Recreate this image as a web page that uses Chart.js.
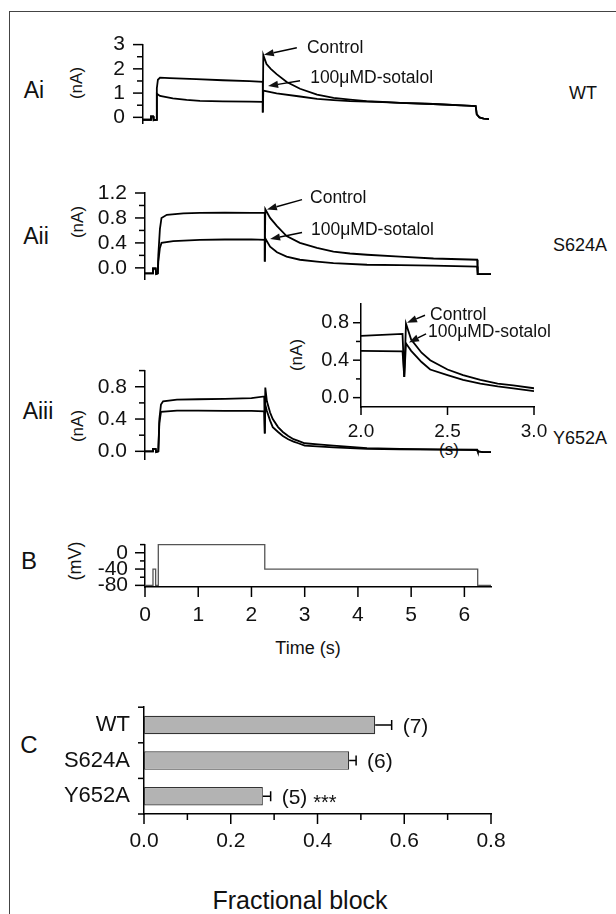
<!DOCTYPE html>
<html><head><meta charset="utf-8">
<script src="https://cdn.jsdelivr.net/npm/chart.js@4.4.1/dist/chart.umd.min.js"></script>
<style>
html,body{margin:0;padding:0;background:#fff;}
body{width:616px;height:914px;position:relative;overflow:hidden;font-family:"Liberation Sans",Arial,sans-serif;color:#111;}
#frame{position:absolute;left:9px;top:11px;width:640px;height:940px;border-left:1.5px solid #444;border-top:1.5px solid #444;}
canvas{position:absolute;}
.lbl{position:absolute;transform:translate(-50%,-50%);white-space:nowrap;line-height:1;}
.rot{transform:translate(-50%,-50%) rotate(-90deg);}
</style></head><body>
<div id="frame"></div>
<div class="lbl" style="left:34px;top:90px;font-size:23px">Ai</div>
<div class="lbl rot" style="left:76px;top:83px;font-size:17px">(nA)</div>
<div class="lbl" style="left:583px;top:93px;font-size:18px">WT</div>
<div class="lbl" style="left:36px;top:236px;font-size:23px">Aii</div>
<div class="lbl rot" style="left:77px;top:222px;font-size:17px">(nA)</div>
<div class="lbl" style="left:580px;top:245px;font-size:18px">S624A</div>
<div class="lbl" style="left:38px;top:411px;font-size:23px">Aiii</div>
<div class="lbl rot" style="left:77px;top:426px;font-size:17px">(nA)</div>
<div class="lbl rot" style="left:296px;top:355px;font-size:17px">(nA)</div>
<div class="lbl" style="left:449px;top:449px;font-size:17px">(s)</div>
<div class="lbl" style="left:580px;top:438px;font-size:18px">Y652A</div>
<div class="lbl" style="left:29px;top:561px;font-size:24px">B</div>
<div class="lbl rot" style="left:75px;top:561px;font-size:18px">(mV)</div>
<div class="lbl" style="left:308px;top:648px;font-size:18px">Time (s)</div>
<div class="lbl" style="left:29px;top:745px;font-size:24px">C</div>
<div class="lbl" style="left:300px;top:900px;font-size:25px">Fractional block</div>
<script>
// ================= DATA =================
// Panel Ai (WT): time (s) / current (nA)
const aiCtrlT = [0, 0.14, 0.15, 0.19, 0.2, 0.25, 0.26, 0.28, 0.32, 0.5, 1.0, 1.5, 2.0, 2.25, 2.25, 2.26, 2.32, 2.4, 2.51, 2.7, 2.95, 3.27, 3.58, 3.89, 4.2, 4.5, 4.83, 5.45, 6.08, 6.25, 6.27, 6.32, 6.4, 6.5];
const aiCtrlI = [-0.1, -0.1, 0.04, 0.04, -0.12, -0.1, 1.2, 1.55, 1.64, 1.62, 1.58, 1.53, 1.49, 1.46, 0.2, 2.57, 2.2, 2.0, 1.78, 1.46, 1.18, 0.94, 0.8, 0.73, 0.67, 0.635, 0.6, 0.55, 0.48, 0.46, 0.12, 0.0, -0.05, -0.07];
const aiSotT = [0, 0.14, 0.15, 0.19, 0.2, 0.25, 0.26, 0.32, 0.56, 0.82, 1.07, 1.5, 2.0, 2.25, 2.25, 2.26, 2.51, 2.95, 3.27, 3.58, 3.89, 4.2, 4.5, 4.83, 5.45, 6.08, 6.25, 6.27, 6.32, 6.4, 6.5];
const aiSotI = [-0.1, -0.1, 0.04, 0.04, -0.12, -0.1, 0.97, 0.88, 0.78, 0.72, 0.68, 0.66, 0.645, 0.635, 0.2, 1.1, 0.99, 0.86, 0.76, 0.71, 0.67, 0.65, 0.63, 0.6, 0.55, 0.48, 0.46, 0.12, 0.0, -0.05, -0.07];

// Panel Aii (S624A)
const aiiCtrlT = [0, 0.14, 0.15, 0.2, 0.21, 0.24, 0.25, 0.28, 0.31, 0.41, 0.72, 1.03, 1.5, 2.0, 2.25, 2.25, 2.26, 2.35, 2.48, 2.66, 2.91, 3.23, 3.54, 3.85, 4.17, 4.79, 5.42, 6.24, 6.25, 6.3, 6.5];
const aiiCtrlI = [-0.09, -0.09, -0.01, -0.01, -0.1, -0.09, 0.2, 0.62, 0.8, 0.85, 0.875, 0.88, 0.885, 0.88, 0.88, 0.1, 0.94, 0.8, 0.67, 0.51, 0.40, 0.32, 0.26, 0.23, 0.21, 0.18, 0.15, 0.13, -0.1, -0.1, -0.1];
const aiiSotT = [0, 0.14, 0.15, 0.2, 0.21, 0.24, 0.25, 0.28, 0.31, 0.53, 1.03, 1.5, 2.0, 2.25, 2.25, 2.26, 2.35, 2.48, 2.66, 2.91, 3.23, 3.54, 4.17, 4.79, 5.42, 6.24, 6.25, 6.3, 6.5];
const aiiSotI = [-0.09, -0.09, -0.01, -0.01, -0.1, -0.09, 0.1, 0.32, 0.4, 0.43, 0.45, 0.455, 0.455, 0.45, 0.1, 0.47, 0.34, 0.25, 0.18, 0.13, 0.10, 0.075, 0.05, 0.045, 0.035, 0.02, -0.1, -0.1, -0.1];

// Panel Aiii (Y652A) — also shown magnified in the inset
const aiiiCtrlT = [0, 0.14, 0.15, 0.2, 0.21, 0.25, 0.27, 0.3, 0.34, 0.6, 1.0, 1.5, 2.0, 2.24, 2.25, 2.26, 2.29, 2.35, 2.4, 2.5, 2.59, 2.69, 2.79, 2.88, 3.0, 3.25, 3.54, 4.17, 4.79, 5.5, 6.24, 6.25, 6.35, 6.5];
const aiiiCtrlI = [0, 0, 0.03, 0.03, -0.01, 0, 0.4, 0.58, 0.62, 0.64, 0.645, 0.65, 0.66, 0.68, 0.22, 0.79, 0.62, 0.48, 0.40, 0.30, 0.24, 0.19, 0.15, 0.13, 0.10, 0.085, 0.07, 0.04, 0.03, 0.025, 0.02, 0.0, -0.01, -0.01];
const aiiiSotT = [0, 0.14, 0.15, 0.2, 0.21, 0.25, 0.27, 0.3, 0.6, 1.0, 1.5, 2.0, 2.24, 2.25, 2.26, 2.29, 2.35, 2.4, 2.5, 2.59, 2.69, 2.79, 2.88, 3.0, 3.54, 4.17, 4.79, 5.5, 6.24, 6.25, 6.35, 6.5];
const aiiiSotI = [0, 0, 0.03, 0.03, -0.01, 0, 0.35, 0.49, 0.505, 0.505, 0.5, 0.5, 0.495, 0.22, 0.58, 0.5, 0.38, 0.30, 0.24, 0.19, 0.15, 0.12, 0.10, 0.07, 0.05, 0.03, 0.025, 0.02, 0.015, 0.0, -0.01, -0.01];

// Panel B: voltage protocol, time (s) / membrane potential (mV)
const protT = [0, 0.15, 0.15, 0.2, 0.2, 0.25, 0.25, 2.25, 2.25, 6.25, 6.25, 6.5];
const protV = [-80, -80, -40, -40, -80, -80, 20, 20, -40, -40, -80, -80];

// Panel C: fractional block by 100 µM D-sotalol
const channels = ['WT', 'S624A', 'Y652A'];
const fracBlock = [0.533, 0.473, 0.274];
const fracSem = [0.038, 0.016, 0.018];
const nCells = ['(7)', '(6)', '(5)'];
const signif = ['', '', '***'];

// Tick values
const aiTicks = [0, 1, 2, 3], aiMinor = [0.5, 1.5, 2.5];
const aiiTicks = [0, 0.4, 0.8, 1.2], aiiMinor = [0.2, 0.6, 1.0];
const aiiiTicks = [0, 0.4, 0.8], aiiiMinor = [0.2, 0.6, 1.0];
const insetYTicks = [0, 0.4, 0.8], insetYMinor = [0.2, 0.6];
const insetXTicks = [2.0, 2.5, 3.0];
const bYTicks = [0, -40, -80], bYMinor = [20, -20, -60];
const timeTicks = [0, 1, 2, 3, 4, 5, 6];
const cXTicks = [0, 0.2, 0.4, 0.6, 0.8], cXMinor = [0.1, 0.3, 0.5, 0.7];

// ================= HELPERS =================
const FONT = '"Liberation Sans", Arial, sans-serif';
Chart.defaults.font.family = FONT;
Chart.defaults.color = '#111';
Chart.defaults.animation = false;

const pts = (t, v) => t.map((x, i) => ({x, y: v[i]}));
const trace = (t, v, w) => ({data: pts(t, v), borderColor: '#000', borderWidth: w || 1.8, pointRadius: 0, showLine: true, tension: 0, fill: false});

function linAxis(o) {
  return {
    type: 'linear', display: o.display !== false, min: o.min, max: o.max, position: o.position,
    grid: {display: false, drawTicks: false},
    border: {display: true, color: '#000', width: 1.5},
    ticks: {padding: o.pad || 0, font: {size: o.size || 20}, color: '#111', maxRotation: 0, autoSkip: false,
      callback: (v) => o.fmt ? o.fmt(v) : String(v)},
    afterBuildTicks: (s) => { if (o.major) s.ticks = o.major.map(v => ({value: v})); },
    afterFit: o.fit
  };
}

function tickPlugin(specs) {
  return {
    id: 'tickmarks',
    afterDraw(chart) {
      const ctx = chart.ctx, a = chart.chartArea;
      ctx.save(); ctx.strokeStyle = '#000'; ctx.lineWidth = 1.5;
      specs.forEach(sp => {
        const s = chart.scales[sp.axis];
        const draw = (vals, len) => (vals || []).forEach(v => {
          const p = s.getPixelForValue(v);
          ctx.beginPath();
          if (sp.axis === 'y') { ctx.moveTo(a.left, p); ctx.lineTo(a.left - len, p); }
          else { ctx.moveTo(p, a.bottom); ctx.lineTo(p, a.bottom + len); }
          ctx.stroke();
        });
        draw(sp.major, sp.majLen); draw(sp.minor, sp.minLen);
      });
      ctx.restore();
    }
  };
}

function notePlugin(notes) {
  return {
    id: 'notes',
    afterDraw(chart) {
      const ctx = chart.ctx, xs = chart.scales.x, ys = chart.scales.y;
      ctx.save();
      ctx.font = '17.5px ' + FONT; ctx.fillStyle = '#111'; ctx.strokeStyle = '#000'; ctx.lineWidth = 1.4;
      ctx.textAlign = 'left'; ctx.textBaseline = 'middle';
      notes.forEach(n => {
        ctx.fillText(n.text, xs.getPixelForValue(n.at[0]), ys.getPixelForValue(n.at[1]));
        const x0 = xs.getPixelForValue(n.from[0]), y0 = ys.getPixelForValue(n.from[1]);
        const x1 = xs.getPixelForValue(n.to[0]), y1 = ys.getPixelForValue(n.to[1]);
        const ang = Math.atan2(y1 - y0, x1 - x0), L = 10, W = 3.6;
        const bx = x1 - L * Math.cos(ang), by = y1 - L * Math.sin(ang);
        ctx.beginPath(); ctx.moveTo(x0, y0); ctx.lineTo(bx, by); ctx.stroke();
        ctx.beginPath(); ctx.moveTo(x1, y1);
        ctx.lineTo(bx + W * Math.sin(ang), by - W * Math.cos(ang));
        ctx.lineTo(bx - W * Math.sin(ang), by + W * Math.cos(ang));
        ctx.closePath(); ctx.fill();
      });
      ctx.restore();
    }
  };
}

function makeChart(box, area, build) {
  const c = document.createElement('canvas');
  c.width = box.w; c.height = box.h;
  Object.assign(c.style, {left: box.l + 'px', top: box.t + 'px', width: box.w + 'px', height: box.h + 'px'});
  document.body.appendChild(c);
  const fitY = (s) => { s.width = area.l - box.l; };
  const fitX = (s) => { s.height = box.t + box.h - area.b; };
  const cfg = build(fitX, fitY);
  const xShown = cfg.options.scales.x.display !== false;
  cfg.options.responsive = false;
  cfg.options.maintainAspectRatio = false;
  cfg.options.events = [];
  cfg.options.layout = {padding: {left: 0, top: area.t - box.t, right: box.l + box.w - area.r, bottom: xShown ? 0 : box.t + box.h - area.b}};
  cfg.options.plugins = Object.assign({legend: {display: false}, tooltip: {enabled: false}}, cfg.options.plugins || {});
  return new Chart(c, cfg);
}

const f1 = (v) => v.toFixed(1);

// ================= PANEL Ai =================
makeChart({l: 0, t: 14, w: 616, h: 140}, {l: 143, t: 33, r: 489, b: 136}, (fitX, fitY) => ({
  type: 'scatter',
  data: {datasets: [trace(aiCtrlT, aiCtrlI), trace(aiSotT, aiSotI)]},
  options: {scales: {
    x: linAxis({min: 0, max: 6.5, display: false}),
    y: linAxis({min: -0.25, max: 3, major: aiTicks, pad: 18, size: 21, fit: fitY})
  }},
  plugins: [tickPlugin([{axis: 'y', major: aiTicks, minor: aiMinor, majLen: 10, minLen: 6}]),
    notePlugin([
      {text: 'Control', at: [3.08, 2.84], from: [2.89, 2.87], to: [2.27, 2.58]},
      {text: '100\u03bcMD-sotalol', at: [3.14, 1.61], from: [2.95, 1.51], to: [2.35, 1.29]}
    ])]
}));

// ================= PANEL Aii =================
makeChart({l: 0, t: 160, w: 616, h: 150}, {l: 145, t: 193, r: 491, b: 298}, (fitX, fitY) => ({
  type: 'scatter',
  data: {datasets: [trace(aiiCtrlT, aiiCtrlI), trace(aiiSotT, aiiSotI)]},
  options: {scales: {
    x: linAxis({min: 0, max: 6.5, display: false}),
    y: linAxis({min: -0.185, max: 1.2, major: aiiTicks, fmt: f1, pad: 18, size: 21, fit: fitY})
  }},
  plugins: [tickPlugin([{axis: 'y', major: aiiTicks, minor: aiiMinor, majLen: 10, minLen: 6}]),
    notePlugin([
      {text: 'Control', at: [3.1, 1.12], from: [2.95, 1.095], to: [2.29, 0.937]},
      {text: '100\u03bcMD-sotalol', at: [3.12, 0.607], from: [2.95, 0.567], to: [2.35, 0.462]}
    ])]
}));

// ================= PANEL Aiii =================
makeChart({l: 0, t: 340, w: 616, h: 150}, {l: 145, t: 369, r: 491, b: 472}, (fitX, fitY) => ({
  type: 'scatter',
  data: {datasets: [trace(aiiiCtrlT, aiiiCtrlI), trace(aiiiSotT, aiiiSotI)]},
  options: {scales: {
    x: linAxis({min: 0, max: 6.5, display: false}),
    y: linAxis({min: -0.1, max: 1.0, major: aiiiTicks, fmt: f1, pad: 18, size: 21, fit: fitY})
  }},
  plugins: [tickPlugin([{axis: 'y', major: aiiiTicks, minor: aiiiMinor, majLen: 10, minLen: 6}])]
}));

// ================= INSET (Y652A, 2–3 s) =================
makeChart({l: 250, t: 280, w: 366, h: 175}, {l: 361, t: 297, r: 534, b: 407}, (fitX, fitY) => ({
  type: 'scatter',
  data: {datasets: [trace(aiiiCtrlT, aiiiCtrlI), trace(aiiiSotT, aiiiSotI)]},
  options: {scales: {
    x: linAxis({min: 2, max: 3, major: insetXTicks, fmt: f1, pad: 13, size: 19, fit: fitX, position: 'bottom'}),
    y: linAxis({min: -0.1, max: 1.0, major: insetYTicks, fmt: f1, pad: 12, size: 20, fit: fitY})
  }},
  plugins: [tickPlugin([{axis: 'y', major: insetYTicks, minor: insetYMinor, majLen: 8, minLen: 5},
                        {axis: 'x', major: insetXTicks, majLen: 8}]),
    notePlugin([
      {text: 'Control', at: [2.399, 0.88], from: [2.37, 0.88], to: [2.266, 0.80]},
      {text: '100\u03bcMD-sotalol', at: [2.387, 0.70], from: [2.376, 0.68], to: [2.277, 0.59]}
    ])]
}));

// ================= PANEL B =================
makeChart({l: 0, t: 515, w: 616, h: 110}, {l: 145, t: 533, r: 491, b: 587}, (fitX, fitY) => ({
  type: 'scatter',
  data: {datasets: [Object.assign(trace(protT, protV, 1.3), {borderColor: '#555', clip: false})]},
  options: {scales: {
    x: linAxis({min: 0, max: 6.5, major: timeTicks, pad: 16, size: 21, fit: fitX, position: 'bottom'}),
    y: linAxis({min: -84, max: 20, major: bYTicks, pad: 17, size: 21, fit: fitY})
  }},
  plugins: [tickPlugin([{axis: 'y', major: bYTicks, minor: bYMinor, majLen: 10, minLen: 5},
                        {axis: 'x', major: timeTicks, majLen: 10}])]
}));

// ================= PANEL C =================
makeChart({l: 0, t: 680, w: 616, h: 180}, {l: 144, t: 696, r: 491, b: 814}, (fitX, fitY) => ({
  type: 'bar',
  data: {labels: channels, datasets: [{data: fracBlock, backgroundColor: '#b3b3b3', borderColor: '#333', borderWidth: 1.2, borderSkipped: false,
    categoryPercentage: 1, barPercentage: 0.52}]},
  options: {
    indexAxis: 'y',
    scales: {
      x: linAxis({min: 0, max: 0.8, major: cXTicks, fmt: f1, pad: 15, size: 21, fit: fitX, position: 'bottom'}),
      y: {type: 'category', grid: {display: false, drawTicks: false}, border: {display: true, color: '#000', width: 1.5},
          ticks: {padding: 14, font: {size: 22}, color: '#111'}, afterFit: fitY}
    }
  },
  plugins: [tickPlugin([{axis: 'x', major: cXTicks, minor: cXMinor, majLen: 10, minLen: 6},
                        {axis: 'y', major: [-0.5, 0.5, 1.5, 2.5], majLen: 6}]),
    {id: 'errbars', afterDatasetsDraw(chart) {
      const ctx = chart.ctx, xs = chart.scales.x, meta = chart.getDatasetMeta(0);
      ctx.save(); ctx.strokeStyle = '#000'; ctx.lineWidth = 1.5; ctx.fillStyle = '#111';
      meta.data.forEach((bar, i) => {
        const y = bar.y, x0 = xs.getPixelForValue(fracBlock[i]), x1 = xs.getPixelForValue(fracBlock[i] + fracSem[i]);
        ctx.beginPath(); ctx.moveTo(x0, y); ctx.lineTo(x1, y); ctx.moveTo(x1, y - 5); ctx.lineTo(x1, y + 5); ctx.stroke();
        ctx.font = '21px ' + FONT; ctx.textAlign = 'left'; ctx.textBaseline = 'middle';
        ctx.fillText(nCells[i], x1 + 11, y + 2);
        if (signif[i]) {
          const w = ctx.measureText(nCells[i] + ' ').width;
          ctx.font = '20px ' + FONT;
          ctx.fillText(signif[i], x1 + 11 + w, y + 7);
        }
      });
      ctx.restore();
    }}]
}));
</script>
</body></html>
